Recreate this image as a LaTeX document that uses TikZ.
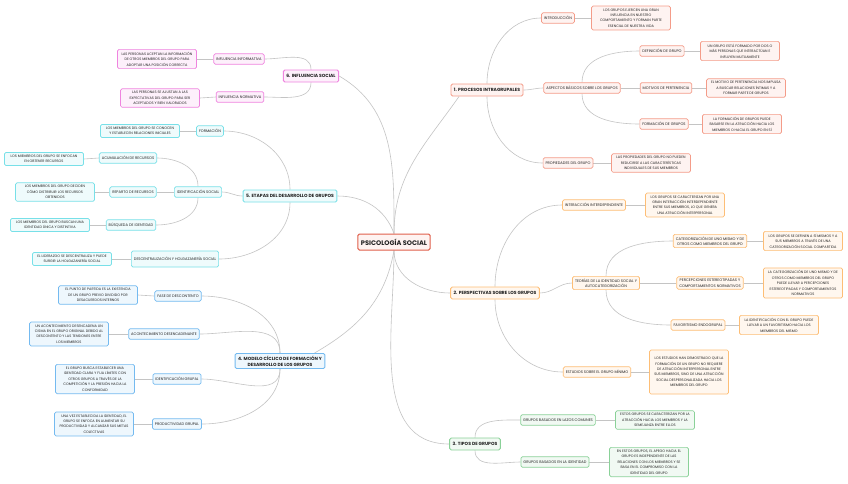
\documentclass[tikz,border=0pt]{standalone}
\usepackage{fontspec}
\setmainfont{Poppins}
\usetikzlibrary{backgrounds}
\definecolor{rline}{HTML}{F49C89}
\definecolor{rdark}{HTML}{E0604C}
\definecolor{oline}{HTML}{FDBE76}
\definecolor{gline}{HTML}{8AD198}
\definecolor{bline}{HTML}{74BAF0}
\definecolor{cline}{HTML}{78E0E8}
\definecolor{pline}{HTML}{EF84DF}
\definecolor{linkgray}{HTML}{C4C4C4}
\definecolor{ink}{HTML}{222222}

\begin{document}
\begin{tikzpicture}[x=1pt,y=1pt]
\tikzstyle{every node}+=[inner sep=0pt, text=ink]
\tikzstyle{lbl}=[draw, rounded corners=1.5pt, line width=0.7pt, inner xsep=2.5pt, inner ysep=2.2pt, minimum height=10.5pt, align=center, font=\fontsize{3.7}{5.4}\selectfont]
\tikzstyle{txt}=[lbl, minimum width=79pt, inner ysep=2.6pt, font=\fontsize{3.5}{5.4}\selectfont]
\tikzstyle{topic}=[lbl, line width=0.9pt, minimum height=12pt, inner xsep=3pt, font=\fontsize{4.5}{6.2}\selectfont\bfseries]
\tikzstyle{link}=[draw=linkgray, line width=0.6pt]
\tikzstyle{rc}=[draw=rline, fill=rline!12]
\tikzstyle{oc}=[draw=oline, fill=oline!12]
\tikzstyle{gc}=[draw=gline, fill=gline!12]
\tikzstyle{bc}=[draw=bline, fill=bline!12]
\tikzstyle{cc}=[draw=cline, fill=cline!12]
\tikzstyle{pc}=[draw=pline, fill=pline!12]
\useasboundingbox (0,0) rectangle (848,-483);
\begin{pgfonlayer}{background}
\fill [white] (0,0) rectangle (848,-483);
\end{pgfonlayer}

% centre
\node [topic, rc, draw=rdark, line width=1pt, minimum height=16pt, inner xsep=3pt, font=\fontsize{6.6}{7.5}\selectfont\bfseries] (psico) at (394,-242) {PSICOLOGÍA SOCIAL};

% 1. procesos intragrupales
\node [topic, rc] (proc) at (487,-90) {1. PROCESOS INTRAGRUPALES};
\node [lbl, rc] (intro) at (558,-18) {INTRODUCCIÓN};
\node [txt, rc] (introtxt) at (631,-18) {LOS GRUPOS EJERCEN UNA GRAN\\INFLUENCIA EN NUESTRO\\COMPORTAMIENTO Y FORMAN PARTE\\ESENCIAL DE NUESTRA VIDA};
\node [lbl, rc] (asp) at (582,-88) {ASPECTOS BÁSICOS SOBRE LOS GRUPOS};
\node [lbl, rc] (defn) at (662,-51) {DEFINICIÓN DE GRUPO};
\node [txt, rc] (defntxt) at (740,-51) {UN GRUPO ESTÁ FORMADO POR DOS O\\MÁS PERSONAS QUE INTERACTÚAN E\\INFLUYEN MUTUAMENTE};
\node [lbl, rc] (motv) at (666,-88) {MOTIVOS DE PERTENENCIA};
\node [txt, rc] (motvtxt) at (746,-88) {EL MOTIVO DE PERTENENCIA NOS IMPULSA\\A BUSCAR RELACIONES ÍNTIMAS Y A\\FORMAR PARTE DE GRUPOS};
\node [lbl, rc] (formg) at (664,-124) {FORMACIÓN DE GRUPOS};
\node [txt, rc] (formgtxt) at (742,-124) {LA FORMACIÓN DE GRUPOS PUEDE\\BASARSE EN LA ATRACCIÓN HACIA LOS\\MIEMBROS O HACIA EL GRUPO EN SÍ};
\node [lbl, rc] (prop) at (568,-163) {PROPIEDADES DEL GRUPO};
\node [txt, rc] (proptxt) at (651,-163) {LAS PROPIEDADES DEL GRUPO NO PUEDEN\\REDUCIRSE A LAS CARACTERÍSTICAS\\INDIVIDUALES DE SUS MIEMBROS};

% 2. perspectivas
\node [topic, oc] (persp) at (495,-293) {2. PERSPECTIVAS SOBRE LOS GRUPOS};
\node [lbl, oc] (inter) at (594,-205) {INTERACCIÓN INTERDEPENDIENTE};
\node [txt, oc] (intertxt) at (685,-205) {LOS GRUPOS SE CARACTERIZAN POR UNA\\GRAN INTERACCIÓN INTERDEPENDIENTE\\ENTRE SUS MIEMBROS, LO QUE GENERA\\UNA ATRACCIÓN INTERPERSONAL};
\node [lbl, oc] (teor) at (606,-283) {TEORÍAS DE LA IDENTIDAD SOCIAL Y\\AUTOCATEGORIZACIÓN};
\node [lbl, oc] (categ) at (710,-241) {CATEGORIZACIÓN DE UNO MISMO Y DE\\OTROS COMO MIEMBROS DEL GRUPO};
\node [txt, oc] (categtxt) at (803,-241) {LOS GRUPOS SE DEFINEN A SÍ MISMOS Y A\\SUS MIEMBROS A TRAVÉS DE UNA\\CATEGORIZACIÓN SOCIAL COMPARTIDA};
\node [lbl, oc] (percep) at (710,-283) {PERCEPCIONES ESTEREOTIPADAS Y\\COMPORTAMIENTOS NORMATIVOS};
\node [txt, oc] (perceptxt) at (803,-283) {LA CATEGORIZACIÓN DE UNO MISMO Y DE\\OTROS COMO MIEMBROS DEL GRUPO\\PUEDE LLEVAR A PERCEPCIONES\\ESTEREOTIPADAS Y COMPORTAMIENTOS\\NORMATIVOS};
\node [lbl, oc] (favor) at (698,-325) {FAVORITISMO ENDOGRUPAL};
\node [txt, oc] (favortxt) at (779,-325) {LA IDENTIFICACIÓN CON EL GRUPO PUEDE\\LLEVAR A UN FAVORITISMO HACIA LOS\\MIEMBROS DEL MISMO};
\node [lbl, oc] (estud) at (597,-372) {ESTUDIOS SOBRE EL GRUPO MÍNIMO};
\node [txt, oc, minimum height=44pt] (estudtxt) at (689,-372) {LOS ESTUDIOS HAN DEMOSTRADO QUE LA\\FORMACIÓN DE UN GRUPO NO REQUIERE\\DE ATRACCIÓN INTERPERSONAL ENTRE\\SUS MIEMBROS, SINO DE UNA ATRACCIÓN\\SOCIAL DESPERSONALIZADA HACIA LOS\\MIEMBROS DEL GRUPO};

% 3. tipos
\node [topic, gc] (tipos) at (475,-444) {3. TIPOS DE GRUPOS};
\node [lbl, gc] (lazos) at (558,-420) {GRUPOS BASADOS EN LAZOS COMUNES};
\node [txt, gc] (lazostxt) at (655,-420) {ESTOS GRUPOS SE CARACTERIZAN POR LA\\ATRACCIÓN HACIA LOS MIEMBROS Y LA\\SEMEJANZA ENTRE ELLOS};
\node [lbl, gc] (ident) at (555,-462) {GRUPOS BASADOS EN LA IDENTIDAD};
\node [txt, gc] (identtxt) at (649,-462) {EN ESTOS GRUPOS, EL APEGO HACIA EL\\GRUPO ES INDEPENDIENTE DE LAS\\RELACIONES CON LOS MIEMBROS Y SE\\BASA EN EL COMPROMISO CON LA\\IDENTIDAD DEL GRUPO};

% 6. influencia social
\node [topic, pc] (infl) at (311,-76) {6. INFLUENCIA SOCIAL};
\node [lbl, pc] (infinf) at (239,-59) {INFLUENCIA INFORMATIVA};
\node [txt, pc] (infinftxt) at (157,-59) {LAS PERSONAS ACEPTAN LA INFORMACIÓN\\DE OTROS MIEMBROS DEL GRUPO PARA\\ADOPTAR UNA POSICIÓN CORRECTA};
\node [lbl, pc] (infnor) at (240,-97) {INFLUENCIA NORMATIVA};
\node [txt, pc] (infnortxt) at (160,-98) {LAS PERSONAS SE AJUSTAN A LAS\\EXPECTATIVAS DEL GRUPO PARA SER\\ACEPTADOS Y BIEN VALORADOS};

% 5. etapas
\node [topic, cc] (etap) at (290,-196) {5. ETAPAS DEL DESARROLLO DE GRUPOS};
\node [lbl, cc] (formn) at (210,-131) {FORMACIÓN};
\node [txt, cc] (formntxt) at (140,-131) {LOS MIEMBROS DEL GRUPO SE CONOCEN\\Y ESTABLECEN RELACIONES INICIALES};
\node [lbl, cc] (idsoc) at (198,-192) {IDENTIFICACIÓN SOCIAL};
\node [lbl, cc] (acum) at (128,-158) {ACUMULACIÓN DE RECURSOS};
\node [txt, cc] (acumtxt) at (44,-159) {LOS MIEMBROS DEL GRUPO SE ENFOCAN\\EN OBTENER RECURSOS};
\node [lbl, cc] (rep) at (133,-192) {REPARTO DE RECURSOS};
\node [txt, cc] (reptxt) at (55,-192) {LOS MIEMBROS DEL GRUPO DECIDEN\\CÓMO DISTRIBUIR LOS RECURSOS\\OBTENIDOS};
\node [lbl, cc] (busq) at (131,-225) {BÚSQUEDA DE IDENTIDAD};
\node [txt, cc] (busqtxt) at (50,-225) {LOS MIEMBROS DEL GRUPO BUSCAN UNA\\IDENTIDAD ÚNICA Y DISTINTIVA};
\node [lbl, cc, minimum height=16pt] (desc) at (175,-259) {DESCENTRALIZACIÓN Y HOLGAZANERÍA SOCIAL};
\node [txt, cc] (desctxt) at (72,-259) {EL LIDERAZGO SE DESCENTRALIZA Y PUEDE\\SURGIR LA HOLGAZANERÍA SOCIAL};

% 4. modelo ciclico
\node [topic, bc] (modl) at (280,-361) {4. MODELO CÍCLICO DE FORMACIÓN Y\\DESARROLLO DE LOS GRUPOS};
\node [lbl, bc] (fase) at (178,-296) {FASE DE DESCONTENTO};
\node [txt, bc] (fasetxt) at (98,-295) {EL PUNTO DE PARTIDA ES LA EXISTENCIA\\DE UN GRUPO PREVIO DIVIDIDO POR\\DESACUERDOS INTERNOS};
\node [lbl, bc] (acont) at (164,-334) {ACONTECIMIENTO DESENCADENANTE};
\node [txt, bc] (aconttxt) at (69,-334) {UN ACONTECIMIENTO DESENCADENA UN\\CISMA EN EL GRUPO ORIGINAL DEBIDO AL\\DESCONTENTO Y LAS TENSIONES ENTRE\\LOS MIEMBROS};
\node [lbl, bc] (idgr) at (177,-379) {IDENTIFICACIÓN GRUPAL};
\node [txt, bc] (idgrtxt) at (95,-379) {EL GRUPO BUSCA ESTABLECER UNA\\IDENTIDAD CLARA Y FIJA LÍMITES CON\\OTROS GRUPOS A TRAVÉS DE LA\\COMPETICIÓN Y LA PRESIÓN HACIA LA\\CONFORMIDAD};
\node [lbl, bc] (prod) at (177,-424) {PRODUCTIVIDAD GRUPAL};
\node [txt, bc] (prodtxt) at (94,-424) {UNA VEZ ESTABLECIDA LA IDENTIDAD, EL\\GRUPO SE ENFOCA EN AUMENTAR SU\\PRODUCTIVIDAD Y ALCANZAR SUS METAS\\COLECTIVAS};

\begin{pgfonlayer}{background}
% from the centre
\draw [link] (psico.north) to[out=90,in=235] (proc.193);
\draw [link] (psico.south) to[out=-90,in=180] (persp.west);
\draw [link] (psico.south) to[out=-90,in=180] (tipos.west);
\draw [link] (psico.north) to[out=90,in=-30] (infl.east);
\draw [link] (psico.north) to[out=110,in=0] (etap.east);
\draw [link] (psico.south) to[out=-100,in=30] (modl.13);
% right side
\draw [link] (proc) to[out=90,in=180] (intro.west);
\draw [link] (proc.east) to[out=0,in=180] (asp.west);
\draw [link] (proc) to[out=-90,in=180] (prop.west);
\draw [link] (asp) to[out=90,in=180] (defn.west);
\draw [link] (asp.east) -- (motv.west);
\draw [link] (asp) to[out=-90,in=180] (formg.west);
\draw [link] (persp) to[out=90,in=180] (inter.west);
\draw [link] (persp.east) to[out=0,in=180] (teor.west);
\draw [link] (persp) to[out=-90,in=180] (estud.west);
\draw [link] (teor) to[out=90,in=180] (categ.west);
\draw [link] (teor.east) -- (percep.west);
\draw [link] (teor) to[out=-90,in=180] (favor.west);
\draw [link] (tipos) to[out=90,in=180] (lazos.west);
\draw [link] (tipos) to[out=-90,in=180] (ident.west);
\foreach \a in {intro,defn,motv,formg,prop,inter,categ,percep,favor,estud,lazos,ident}
  \draw [link] (\a.east) -- (\a txt.west);
% left side
\draw [link] (infl) to[out=90,in=0] (infinf.east);
\draw [link] (infl) to[out=-90,in=0] (infnor.east);
\draw [link] (etap) to[out=90,in=0] (formn.east);
\draw [link] (etap.west) to[out=180,in=0] (idsoc.east);
\draw [link] (etap) to[out=-90,in=0] (desc.east);
\draw [link] (idsoc) to[out=90,in=0] (acum.east);
\draw [link] (idsoc.west) -- (rep.east);
\draw [link] (idsoc) to[out=-90,in=0] (busq.east);
\draw [link] (modl) to[out=90,in=0] (fase.east);
\draw [link] (modl) to[out=90,in=0] (acont.east);
\draw [link] (modl) to[out=-90,in=0] (idgr.east);
\draw [link] (modl) to[out=-90,in=0] (prod.east);
\foreach \a in {infinf,infnor,formn,acum,rep,busq,desc,fase,acont,idgr,prod}
  \draw [link] (\a.west) -- (\a txt.east);
\end{pgfonlayer}
\end{tikzpicture}
\end{document}
